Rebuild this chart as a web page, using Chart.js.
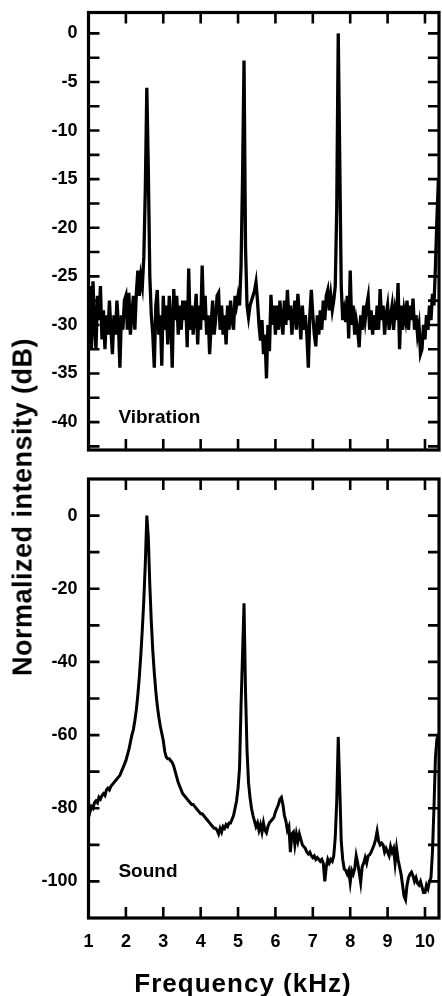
<!DOCTYPE html>
<html>
<head>
<meta charset="utf-8">
<script src="https://cdn.jsdelivr.net/npm/chart.js@4.4.1/dist/chart.umd.min.js"></script>
<style>
  html, body { margin: 0; padding: 0; background: #fff; }
  body { width: 442px; height: 996px; position: relative; overflow: hidden; }
  canvas { position: absolute; left: 0; }
  #cTop { top: 0; }
  #cBot { top: 460px; }
  .ttl { position: absolute; font-family: "Liberation Sans", Arial, Helvetica, sans-serif; font-weight: bold; color: #000; white-space: nowrap; line-height: 1; }
  #yTitle { left: 23px; top: 507px; font-size: 27px; letter-spacing: 0.5px; transform: translate(-50%, -50%) rotate(-90deg); }
  #xTitle { left: 243px; top: 970px; font-size: 26px; letter-spacing: 1px; transform: translateX(-50%); }
</style>
</head>
<body>
<canvas id="cTop" width="442" height="470"></canvas>
<canvas id="cBot" width="442" height="536"></canvas>
<div class="ttl" id="yTitle">Normalized intensity (dB)</div>
<div class="ttl" id="xTitle">Frequency (kHz)</div>
<script>
// ---- Data ----
const freqStart = 1.00;   // kHz, first sample
const freqStep = 0.04;    // kHz, sample spacing

// Vibration spectrum, normalized intensity (dB)
const vibration = [
  -29, -26, -32.5, -25.5, -30, -32.5, -27, -29.5, -26, -31.5, -28.5, -32.5, -29, -31, -27.5, -30.5, -33, -29, -31, -27.5, -30, -34.4, -29, -30.5, -27.5,
  -27, -30.5, -26.7, -31, -29, -27, -30.5, -26.7, -24.4, -27, -25, -26, -23, -16, -5.6, -14, -25, -29, -31, -34.4, -28, -26.4, -31, -29, -34.2,
  -27, -30.5, -28, -32, -27, -29.5, -34.4, -26.3, -29.5, -27, -31, -28, -30.5, -27.5, -29.5, -27.5, -32.3, -24.2, -30.5, -28, -31, -29, -26.8, -32, -28,
  -30.5, -23.9, -29.5, -27, -31, -29, -33, -30, -27.5, -31, -29.5, -27, -26.7, -30.5, -28, -31, -29, -32, -28, -30.5, -27.5, -29.5, -30.5, -27, -28,
  -27, -28, -24, -15, -2.8, -22, -28, -29.2, -28, -27.5, -27, -26.5, -25.6, -27.5, -30, -31.6, -29.5, -33, -31, -35.5, -30, -32.7, -26.9, -30, -28,
  -31, -28, -30.5, -27.5, -29.5, -31, -27.5, -30, -26.4, -29.5, -28, -31, -29, -27.5, -30.5, -26.8, -29, -31.5, -28, -30.5, -29, -31, -34.4, -29, -26.4,
  -29, -31, -32.2, -29, -31, -28.5, -30.5, -27.5, -29.5, -27, -26.4, -28.5, -27, -28.5, -27.5, -26, -18, 0, -13, -26, -29.5, -28.5, -29.7, -27, -31.4,
  -24.4, -30, -28, -31, -29.5, -30.5, -32.3, -29, -30.5, -28, -29.5, -28, -27.1, -30.5, -28.5, -31, -29, -30.5, -28, -30.5, -26.3, -29.5, -28, -31, -29,
  -28, -30.5, -29, -28, -30.5, -28.5, -29.5, -25.7, -32.5, -28, -30.5, -28.5, -29.5, -27.5, -30.5, -28, -29.5, -27.3, -30.5, -29, -31, -30, -33, -32.5, -30,
  -31.5, -29, -30.5, -28, -29.5, -26.8, -28, -24, -19, -15
];

// Sound spectrum, normalized intensity (dB)
const sound = [
  -79, -81, -79.5, -80, -78.5, -78, -78.5, -77, -77.5, -76.5, -76, -76.5, -75, -74.5, -75, -74, -73.5, -73, -72.5, -72, -71.5, -71, -70, -69, -68,
  -67, -65.5, -64, -62, -60, -58.5, -56, -53, -49, -44, -38, -31, -23, -13, 0, -6, -19, -29, -37, -43, -48, -52, -55, -57.5, -59.5,
  -61.5, -64.5, -66, -66.5, -66.5, -67, -67.5, -68.5, -70, -71.5, -73, -74, -75, -76, -76.5, -77, -77.5, -78, -78.5, -79, -79, -79.5, -80, -80.5, -81,
  -81.5, -81.5, -82, -82.5, -83, -83.5, -84, -84.5, -85, -85.5, -85.5, -86, -87, -85.5, -86.5, -85, -85.5, -84.5, -85, -84, -84, -83, -82, -80, -78,
  -74.5, -69, -52, -38, -24, -48, -64, -73, -77, -80, -82, -83.5, -85, -84, -86, -84.5, -86.5, -84, -86, -86.7, -85, -84, -83.5, -83, -82.5,
  -81, -80, -79, -77.5, -77, -79, -82, -83.5, -86, -85, -92, -87, -86.5, -90, -87, -89, -87, -88.5, -90, -90.5, -91, -92, -92.5, -92, -93,
  -93.5, -93, -94, -93.5, -94, -94.5, -94, -95, -100, -96, -94, -95, -94, -94.5, -93, -88, -78, -60.5, -74, -89, -94, -96.6, -97, -98, -97,
  -100.3, -97, -98, -96.5, -93, -95, -97.5, -100.3, -96, -95, -93.5, -95, -93, -92.7, -92, -91, -90, -88.5, -86.3, -89, -90, -89.5, -90, -92, -91,
  -92, -93, -90.5, -92, -91, -95, -91, -94, -96, -98, -101, -104, -105, -101, -99, -98, -97.5, -98.5, -100, -99, -100.5, -101, -100, -101.5, -103,
  -103, -101, -102, -100, -99, -92, -80, -66, -61, -60
];

// Axis ticks
const xTickValues = [1, 2, 3, 4, 5, 6, 7, 8, 9, 10];
const xTickMarks = [2, 3, 4, 5, 6, 7, 8, 9, 10];
const vibYLabels = [0, -5, -10, -15, -20, -25, -30, -35, -40];
const vibYMarks = [0, -2.5, -5, -7.5, -10, -12.5, -15, -17.5, -20, -22.5, -25, -27.5, -30, -32.5, -35, -37.5, -40, -42.5];
const soundYLabels = [0, -20, -40, -60, -80, -100];
const soundYMarks = [0, -10, -20, -30, -40, -50, -60, -70, -80, -90, -100];

// ---- Build points ----
const freqs = vibration.map((_, i) => Math.round((freqStart + i * freqStep) * 100) / 100);
const vibPoints = vibration.map((v, i) => ({ x: freqs[i], y: v }));
const soundPoints = sound.map((v, i) => ({ x: freqs[i], y: v }));

const FONT = '"Liberation Sans", Arial, Helvetica, sans-serif';

const framePlugin = {
  id: 'frame',
  afterDatasetsDraw(chart, args, opts) {
    const { ctx, chartArea: a } = chart;
    const x = chart.scales.x, y = chart.scales.y;
    const L = 11;
    ctx.save();
    ctx.strokeStyle = '#000';
    ctx.lineCap = 'butt';
    ctx.lineWidth = 2.6;
    ctx.beginPath();
    opts.xMarks.forEach(v => {
      const px = x.getPixelForValue(v);
      ctx.moveTo(px, a.top); ctx.lineTo(px, a.top + L);
      ctx.moveTo(px, a.bottom); ctx.lineTo(px, a.bottom - L);
    });
    opts.yMarks.forEach(v => {
      const py = y.getPixelForValue(v);
      ctx.moveTo(a.left, py); ctx.lineTo(a.left + L, py);
      ctx.moveTo(a.right, py); ctx.lineTo(a.right - L, py);
    });
    ctx.stroke();
    ctx.lineWidth = 3.2;
    ctx.strokeRect(a.left, a.top, a.right - a.left, a.bottom - a.top);
    ctx.fillStyle = '#000';
    ctx.font = 'bold 19px ' + FONT;
    ctx.textAlign = 'left';
    ctx.textBaseline = 'middle';
    ctx.fillText(opts.label, x.getPixelForValue(opts.labelX), y.getPixelForValue(opts.labelY));
    ctx.restore();
  }
};

function makeChart(canvasId, points, lineW, yMin, yMax, yLabels, yMarks, label, labelY, showX, pad) {
  return new Chart(document.getElementById(canvasId), {
    type: 'line',
    data: {
      datasets: [{
        data: points,
        borderColor: '#000',
        borderWidth: lineW,
        pointRadius: 0,
        tension: 0,
        fill: false
      }]
    },
    options: {
      responsive: false,
      animation: false,
      events: [],
      layout: { padding: pad },
      plugins: {
        legend: { display: false },
        tooltip: { enabled: false },
        frame: { xMarks: xTickMarks, yMarks: yMarks, label: label, labelX: 1.8, labelY: labelY }
      },
      scales: {
        x: {
          type: 'linear',
          min: 1, max: 10.375,
          display: showX,
          grid: { display: false, drawTicks: false },
          border: { display: false },
          afterBuildTicks: s => { s.ticks = xTickValues.map(v => ({ value: v })); },
          afterFit: s => {
            if (showX) { s.height = 78; }
            s.paddingLeft = 0; s.paddingRight = 0;
          },
          ticks: {
            color: '#000', padding: 13, maxRotation: 0, autoSkip: false,
            font: { family: FONT, size: 18, weight: 'bold' },
            callback: v => String(v)
          }
        },
        y: {
          type: 'linear',
          min: yMin, max: yMax,
          grid: { display: false, drawTicks: false },
          border: { display: false },
          afterBuildTicks: s => { s.ticks = yLabels.map(v => ({ value: v })); },
          afterFit: s => { s.width = 88.5; s.paddingTop = 0; s.paddingBottom = 0; },
          ticks: {
            color: '#000', padding: 11,
            font: { family: FONT, size: 18, weight: 'bold' },
            callback: v => String(v)
          }
        }
      }
    },
    plugins: [framePlugin]
  });
}

makeChart('cTop', vibPoints, 3.3, -42.87, 2.15, vibYLabels, vibYMarks, 'Vibration', -39.6, false,
  { left: 0, top: 12.5, right: 3, bottom: 20 });
makeChart('cBot', soundPoints, 3, -110, 10, soundYLabels, soundYMarks, 'Sound', -97.3, true,
  { left: 0, top: 19, right: 3, bottom: 0 });
</script>
</body>
</html>
